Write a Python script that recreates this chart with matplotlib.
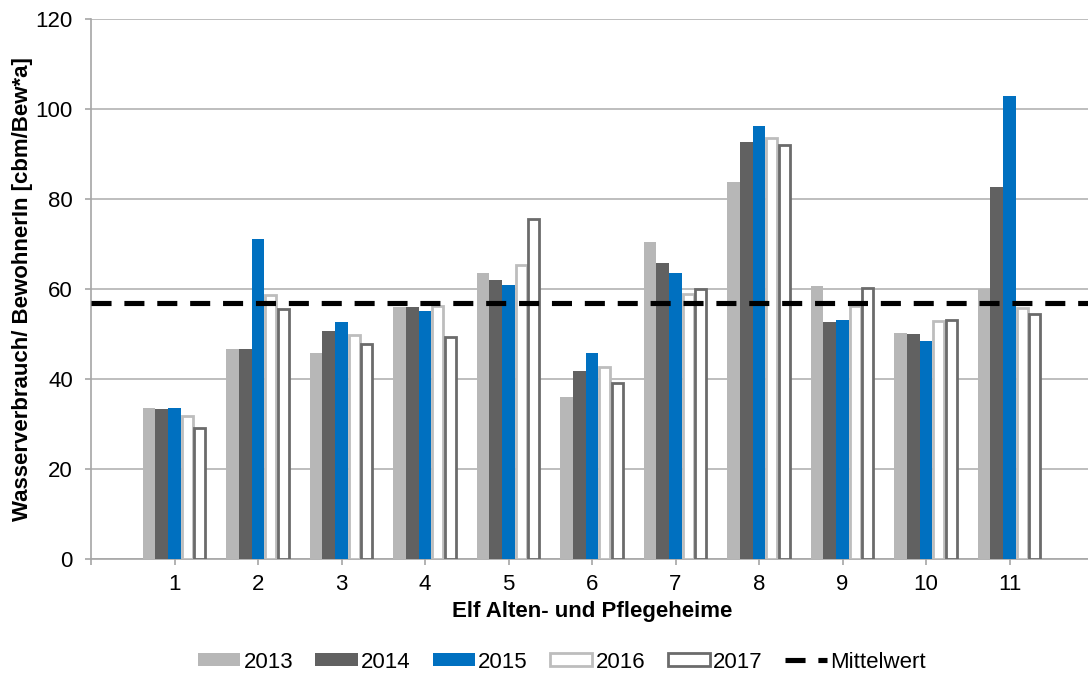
import numpy as np
import matplotlib
matplotlib.use("Agg")
import matplotlib.pyplot as plt

plt.rcParams['font.family'] = ['Liberation Sans', 'DejaVu Sans']

# water use per resident, eleven care homes
heime = [1, 2, 3, 4, 5, 6, 7, 8, 9, 10, 11]
v2013 = [33.5, 46.7, 45.8, 55.9, 63.5, 36.1, 70.4, 83.8, 60.6, 50.3, 60.1]
v2014 = [33.3, 46.7, 50.7, 55.9, 61.9, 41.7, 65.8, 92.6, 52.7, 50.1, 82.7]
v2015 = [33.5, 71.1, 52.7, 55.1, 60.9, 45.7, 63.5, 96.2, 53.1, 48.5, 102.9]
v2016 = [31.8, 58.6, 49.7, 56.2, 65.3, 42.7, 59.0, 93.5, 56.2, 53.0, 55.7]
v2017 = [29.2, 55.5, 47.8, 49.4, 75.5, 39.2, 60.1, 92.0, 60.3, 53.2, 54.4]
mittelwert = 57.0

x = np.array(heime, dtype=float)
w = 0.152
lw_open = 2.0
w_open = 0.13

fig = plt.figure(figsize=(10.88, 6.76), dpi=100)
ax = fig.add_axes([91 / 1088, 1 - 559 / 676, 1002 / 1088, 540 / 676])

b13 = ax.bar(x - 2 * w, v2013, w, color='#b7b7b7', label='2013', zorder=3)
b14 = ax.bar(x - w, v2014, w, color='#616161', label='2014', zorder=3)
b15 = ax.bar(x, v2015, w, color='#0070c0', label='2015', zorder=3)
b16 = ax.bar(x + w, v2016, w_open, color='white', edgecolor='#bdbdbd',
             linewidth=lw_open, label='2016', zorder=3)
b17 = ax.bar(x + 2 * w, v2017, w_open, color='white', edgecolor='#6b6b6b',
             linewidth=lw_open, label='2017', zorder=3)
mw = ax.axhline(mittelwert, color='black', linewidth=3.7, dashes=(3.9, 2.5),
                label='Mittelwert', zorder=4)

ax.set_xlim(0, 12)
ax.set_ylim(0, 120)
ax.set_yticks(range(0, 121, 20))
ax.set_xticks(range(0, 13))
ax.set_xticklabels([''] + [str(h) for h in heime] + [''])
ax.yaxis.grid(True, color='#b3b3b3', linewidth=1.2, zorder=0)
ax.set_axisbelow(True)

for s in ['top', 'right']:
    ax.spines[s].set_visible(False)
for s in ['left', 'bottom']:
    ax.spines[s].set_color('#a6a6a6')
    ax.spines[s].set_linewidth(1.2)

ax.tick_params(axis='both', colors='#a6a6a6', labelcolor='black',
               labelsize=16, length=4, width=1.2)
ax.tick_params(axis='y', pad=9)
ax.tick_params(axis='x', pad=7)

ax.set_xlabel('Elf Alten- und Pflegeheime', fontsize=16, fontweight='bold',
              labelpad=4)
ax.set_ylabel('Wasserverbrauch/ BewohnerIn [cbm/Bew*a]', fontsize=16,
              fontweight='bold', labelpad=2)

handles = [b13, b14, b15, b16, b17, mw]
fig.legend(handles, [h.get_label() for h in handles], loc='center',
           bbox_to_anchor=(562 / 1088, 1 - 662 / 676),
           ncol=6, frameon=False, fontsize=16, handlelength=1.9,
           handleheight=0.5, handletextpad=0.15, columnspacing=1.0,
           borderaxespad=0)

fig.savefig('out.png', dpi=100)
